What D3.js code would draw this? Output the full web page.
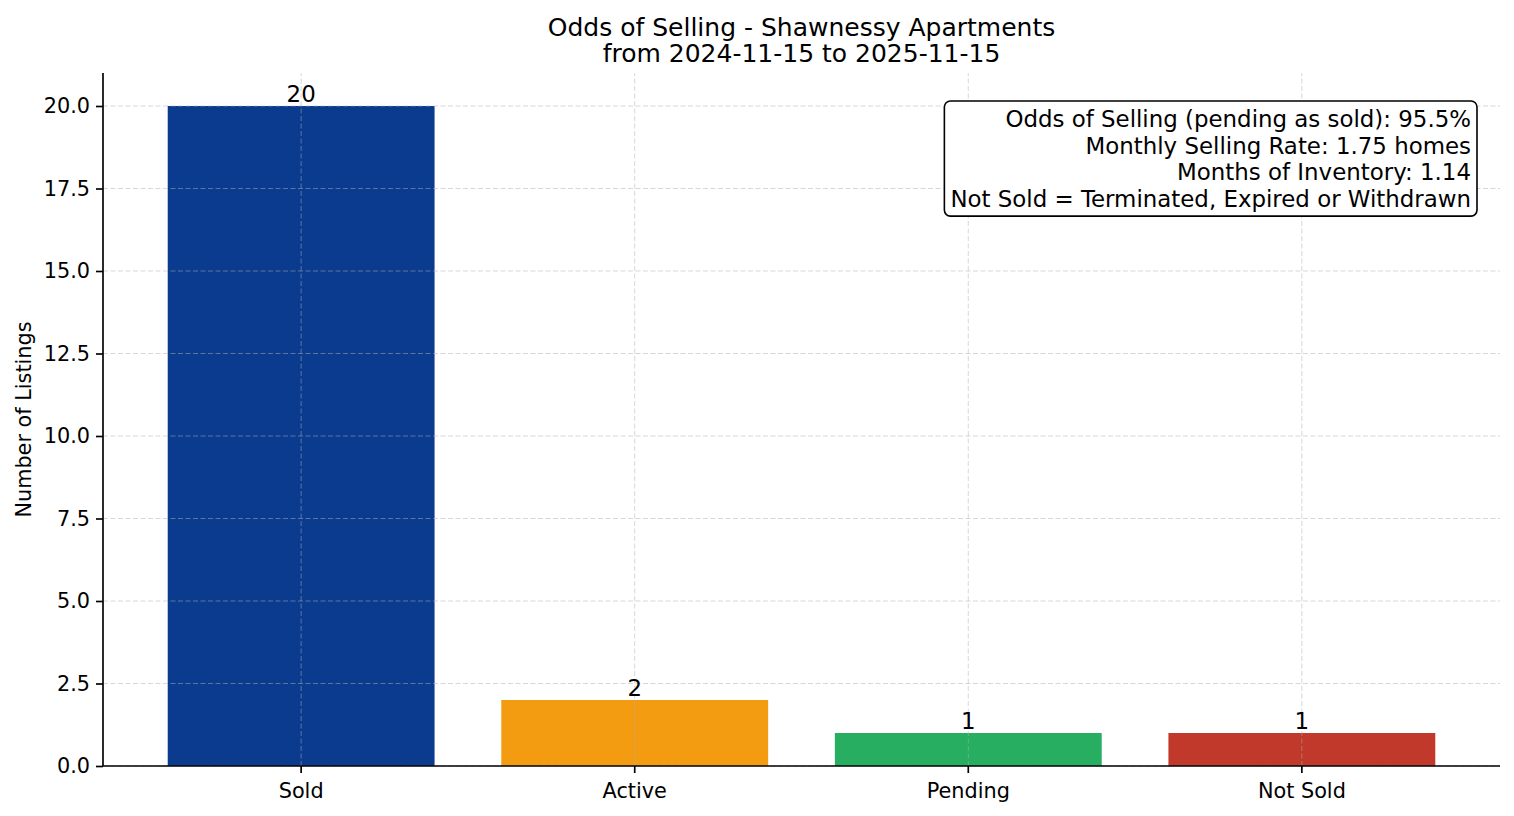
<!DOCTYPE html>
<html lang="en">
<head>
  <meta charset="UTF-8" />
  <script src="https://d3js.org/d3.v7.min.js"></script>
  <title>Odds of Selling</title>
  <style>
    body { margin: 0; background: #fff; }
    svg text { font-family: "DejaVu Sans", sans-serif; }
  </style>
</head>
<body>
  <div id="chart"></div>
  <script>
    const categories = ["Sold", "Active", "Pending", "Not Sold"];
    const counts = [20, 2, 1, 1];
    const barColors = ["#0b3b8f", "#f39c12", "#27ae60", "#c0392b"];
    const yTicks = [0, 2.5, 5, 7.5, 10, 12.5, 15, 17.5, 20];
    const titleLines = ["Odds of Selling - Shawnessy Apartments", "from 2024-11-15 to 2025-11-15"];
    const statLines = [
      "Odds of Selling (pending as sold): 95.5%",
      "Monthly Selling Rate: 1.75 homes",
      "Months of Inventory: 1.14",
      "Not Sold = Terminated, Expired or Withdrawn"
    ];

    const width = 1514, height = 816;
    const margin = { top: 73, right: 14, bottom: 50, left: 103 };

    const svg = d3.select("#chart")
      .append("svg")
      .attr("width", width)
      .attr("height", height);

    const x = d3.scaleBand()
      .domain(categories)
      .range([margin.left, width - margin.right])
      .paddingInner(0.2)
      .paddingOuter(0.194);

    const y = d3.scaleLinear()
      .domain([0, 21])
      .range([height - margin.bottom, margin.top]);

    // bars
    svg.selectAll("rect.bar")
      .data(counts)
      .enter()
      .append("rect")
      .attr("class", "bar")
      .attr("x", (d, i) => x(categories[i]))
      .attr("y", d => y(d))
      .attr("width", x.bandwidth())
      .attr("height", d => y(0) - y(d))
      .attr("fill", (d, i) => barColors[i]);

    // grid (drawn over the bars like matplotlib does)
    const grid = svg.append("g")
      .attr("stroke", "#b0b0b0")
      .attr("stroke-opacity", 0.5)
      .attr("stroke-width", 1)
      .attr("stroke-dasharray", "5,2.5");

    grid.selectAll("line.h")
      .data(yTicks)
      .enter()
      .append("line")
      .attr("x1", margin.left)
      .attr("x2", width - margin.right)
      .attr("y1", d => y(d))
      .attr("y2", d => y(d));

    grid.selectAll("line.v")
      .data(categories)
      .enter()
      .append("line")
      .attr("x1", d => x(d) + x.bandwidth() / 2)
      .attr("x2", d => x(d) + x.bandwidth() / 2)
      .attr("y1", y(0))
      .attr("y2", margin.top);

    // axes
    const yAxis = svg.append("g")
      .attr("transform", `translate(${margin.left},0)`)
      .call(d3.axisLeft(y).tickValues(yTicks).tickFormat(d3.format(".1f")).tickSize(7).tickPadding(6));

    const xAxis = svg.append("g")
      .attr("transform", `translate(0,${height - margin.bottom})`)
      .call(d3.axisBottom(x).tickSize(7).tickPadding(10));

    [yAxis, xAxis].forEach(g => {
      g.select(".domain").attr("stroke", "#000").attr("stroke-width", 1.67);
      g.selectAll(".tick line").attr("stroke", "#000").attr("stroke-width", 1.67);
      g.selectAll(".tick text").attr("fill", "#000").attr("font-size", "20.8px");
    });
    // matplotlib draws the spine without the end ticks
    yAxis.select(".domain").attr("d", `M0,${y(0)}V${margin.top}`);
    xAxis.select(".domain").attr("d", `M${margin.left},0H${width - margin.right}`);

    // value labels
    svg.selectAll("text.value")
      .data(counts)
      .enter()
      .append("text")
      .attr("class", "value")
      .attr("x", (d, i) => x(categories[i]) + x.bandwidth() / 2)
      .attr("y", d => y(d) - 4)
      .attr("text-anchor", "middle")
      .attr("font-size", "22.9px")
      .attr("fill", "#000")
      .text(d => d);

    // y label
    svg.append("text")
      .attr("transform", `translate(31,${(margin.top + height - margin.bottom) / 2}) rotate(-90)`)
      .attr("text-anchor", "middle")
      .attr("font-size", "20.8px")
      .attr("fill", "#000")
      .text("Number of Listings");

    // title
    svg.append("text")
      .attr("x", (margin.left + width - margin.right) / 2)
      .attr("text-anchor", "middle")
      .attr("font-size", "25px")
      .attr("fill", "#000")
      .selectAll("tspan")
      .data(titleLines)
      .enter()
      .append("tspan")
      .attr("x", (margin.left + width - margin.right) / 2)
      .attr("y", (d, i) => 35.5 + i * 26)
      .text(d => d);

    // stats box
    const box = svg.append("g");
    const boxRect = box.append("rect")
      .attr("fill", "#fff")
      .attr("stroke", "#000")
      .attr("stroke-width", 1.6)
      .attr("rx", 6);
    const boxText = box.append("text")
      .attr("text-anchor", "end")
      .attr("font-size", "22.9px")
      .attr("fill", "#000");
    boxText.selectAll("tspan")
      .data(statLines)
      .enter()
      .append("tspan")
      .attr("x", 1471)
      .attr("y", (d, i) => 127 + i * 26.7)
      .text(d => d);

    const bb = boxText.node().getBBox();
    boxRect
      .attr("x", bb.x - 6)
      .attr("y", bb.y - 5)
      .attr("width", bb.width + 12)
      .attr("height", bb.height + 9);
  </script>
</body>
</html>
